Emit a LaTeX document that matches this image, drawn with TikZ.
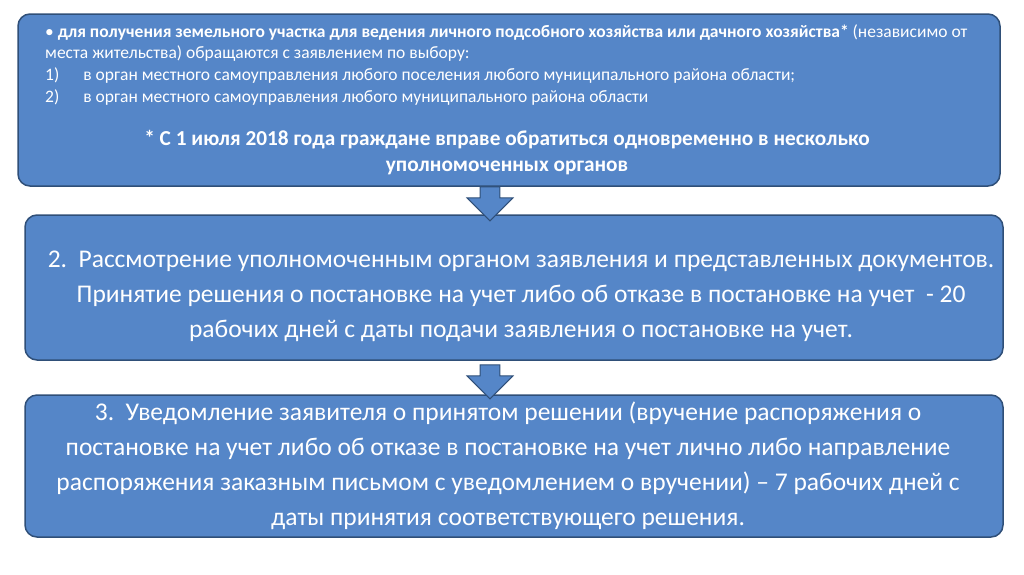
\documentclass[tikz,border=0pt]{standalone}
\usepackage{fontspec}
\setmainfont{Carlito}
\usetikzlibrary{shapes.arrows}
\definecolor{bfill}{HTML}{5586C8}
\definecolor{bline}{HTML}{2F4F78}
\tikzset{
 x=1pt,y=-1pt,
 box/.style={draw=bline,line width=1.5pt,fill=bfill,rounded corners=12pt},
 dnarrow/.style={single arrow,shape border rotate=270,draw=bline,line width=1pt,fill=bfill,minimum width=46pt,single arrow head extend=10pt,single arrow tip angle=90,inner sep=0pt,minimum height=34pt,text width=14pt},
 txt/.style={text=white,inner sep=0pt},
 small/.style={txt,anchor=west,font=\fontsize{17.5}{20}\selectfont},
 big/.style={txt,align=center,font=\fontsize{25.5}{35}\selectfont},
}
\begin{document}
\begin{tikzpicture}
\useasboundingbox (0,0) rectangle (1024,574);
\draw[box] (18,14) rectangle (1000,186);
\draw[box] (25,215) rectangle (1003,360);
\draw[box] (25,395) rectangle (1003,537);
\node[dnarrow] (a1) at (490,199) {};
\node[dnarrow] (a2) at (490,377) {};
\node[small] (t1) at (45,33) {• \textbf{для получения земельного участка для ведения личного подсобного хозяйства или дачного хозяйства*} (независимо от};
\node[small] (t2) at (45,54) {места жительства) обращаются с заявлением по выбору:};
\node[small] (t3) at (45,76) {1)\hspace{24pt}в орган местного самоуправления любого поселения любого муниципального района области;};
\node[small] (t4) at (45,98) {2)\hspace{24pt}в орган местного самоуправления любого муниципального района области};
\node[txt,align=center,font=\bfseries\fontsize{21.3}{26}\selectfont] (t5) at (507,153) {* С 1 июля 2018 года граждане вправе обратиться одновременно в несколько\\уполномоченных органов};
\node[big] (t6) at (521,296) {2.\ \ Рассмотрение уполномоченным органом заявления и представленных документов.\\Принятие решения о постановке на учет либо об отказе в постановке на учет\ \ - 20\\рабочих дней с даты подачи заявления о постановке на учет.};
\node[big] (t7) at (508,466) {3.\ \ Уведомление заявителя о принятом решении (вручение распоряжения о\\постановке на учет либо об отказе в постановке на учет лично либо направление\\распоряжения заказным письмом с уведомлением о вручении) – 7 рабочих дней с\\даты принятия соответствующего решения.};
\end{tikzpicture}
\end{document}
